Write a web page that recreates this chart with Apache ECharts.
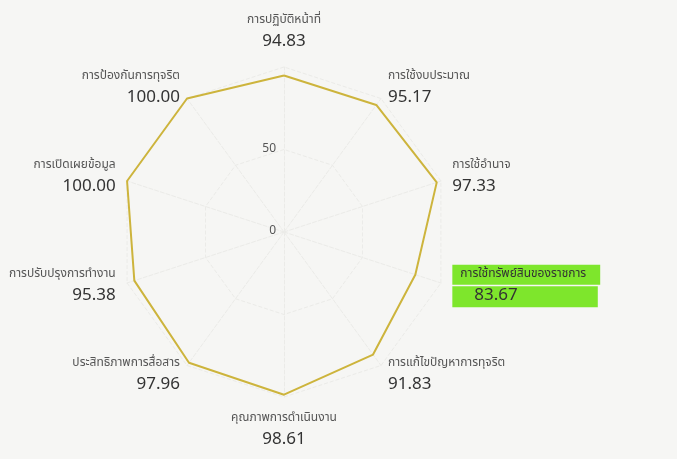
<!DOCTYPE html>
<html>
<head>
<meta charset="utf-8">
<script src="https://cdn.jsdelivr.net/npm/echarts@6/dist/echarts.min.js"></script>
<style>
html,body{margin:0;padding:0;background:#f6f6f4;}
#c{width:677px;height:459px;}
</style>
</head>
<body>
<div id="c"></div>
<script>
const indicatorNames = [
  'การปฏิบัติหน้าที่',
  'การใช้งบประมาณ',
  'การใช้อำนาจ',
  'การใช้ทรัพย์สินของราชการ',
  'การแก้ไขปัญหาการทุจริต',
  'คุณภาพการดำเนินงาน',
  'ประสิทธิภาพการสื่อสาร',
  'การปรับปรุงการทำงาน',
  'การเปิดเผยข้อมูล',
  'การป้องกันการทุจริต'
];
const scores = [94.83, 95.17, 97.33, 83.67, 91.83, 98.61, 97.96, 95.38, 100.00, 100.00];
const highlighted = ['การใช้ทรัพย์สินของราชการ'];
const axisTicks = [0, 50];

// ECharts radar runs counter-clockwise; reorder so the chart reads clockwise from the top
const order = [0].concat(indicatorNames.map((_, i) => i).slice(1).reverse());
const namesCW = order.map(i => indicatorNames[i]);
const scoresCW = order.map(i => scores[i]);

const FONT = "'Noto Sans Thai','Tahoma','Noto Sans','DejaVu Sans',sans-serif";
const CENTER = [284, 232];
const RADIUS = 165;
const chart = echarts.init(document.getElementById('c'));
chart.setOption({
  backgroundColor: '#f6f6f4',
  polar: { center: CENTER, radius: RADIUS },
  angleAxis: { startAngle: 90, min: 0, max: 360, show: false },
  radiusAxis: {
    min: 0, max: 100, interval: 50,
    axisLine: { show: false }, axisTick: { show: false }, splitLine: { show: false },
    axisLabel: {
      color: '#555', fontSize: 12, fontFamily: FONT, margin: 8,
      formatter: function (v) { return axisTicks.includes(v) ? String(v) : ''; }
    }
  },
  radar: {
    center: CENTER,
    radius: RADIUS,
    startAngle: 90,
    splitNumber: 2,
    shape: 'polygon',
    indicator: namesCW.map(n => ({ name: n, min: 0, max: 100 })),
    nameGap: 12,
    axisName: {
      fontFamily: FONT,
      formatter: function (name) {
        const i = indicatorNames.indexOf(name);
        const v = scores[i].toFixed(2);
        if (highlighted.includes(name)) {
          return '{hn|' + name + '}\n{hv|' + v + '}';
        }
        return '{n|' + name + '}\n{v|' + v + '}';
      },
      rich: {
        n: { fontSize: 12, color: '#555', fontFamily: FONT, lineHeight: 20 },
        v: { fontSize: 17, color: '#333', fontFamily: FONT, lineHeight: 24 },
        hn: { fontSize: 12, color: '#333', fontFamily: FONT, lineHeight: 20, backgroundColor: '#7ee62c', padding: [4, 14, 4, 8] },
        hv: { fontSize: 17, color: '#333', fontFamily: FONT, lineHeight: 24, backgroundColor: '#7ee62c', padding: [2, 80, 2, 22] }
      }
    },
    axisLine: { lineStyle: { color: '#ebebe8', type: 'dashed' } },
    splitLine: { lineStyle: { color: '#ebebe8', type: 'dashed' } },
    splitArea: { show: false },
    axisLabel: { show: false }
  },
  series: [{
    type: 'radar',
    symbol: 'none',
    lineStyle: { color: '#cdb43c', width: 2 },
    areaStyle: { opacity: 0 },
    data: [{ value: scoresCW, name: 'ITA' }]
  }]
});
</script>
</body>
</html>
